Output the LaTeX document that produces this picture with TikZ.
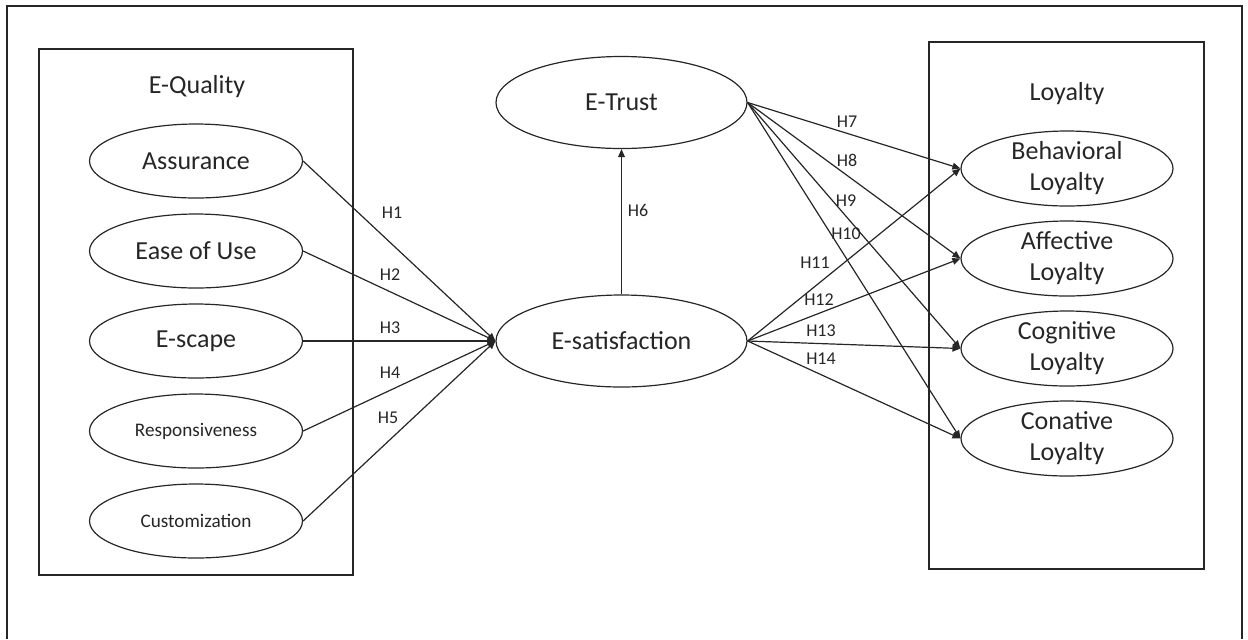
\documentclass[tikz,border=0pt]{standalone}
\usepackage{fontspec}
\setmainfont{Carlito}
\usetikzlibrary{arrows.meta, shapes.geometric}

\begin{document}
\begin{tikzpicture}[x=0.5pt, y=-0.5pt, line width=0.6pt, draw=black!85, text=black!85,
  construct/.style={draw, ellipse, inner sep=-2pt, minimum width=106.5pt, minimum height=37pt, align=center, font=\fontsize{13}{15.5}\selectfont},
  bigconstruct/.style={construct, minimum width=125.5pt, minimum height=46pt},
  smalltext/.style={font=\fontsize{9.6}{11}\selectfont},
  grouplabel/.style={inner sep=0pt, font=\fontsize{13}{15.5}\selectfont},
  hlab/.style={inner sep=0pt, font=\fontsize{9}{11}\selectfont},
  link/.style={-{Triangle[length=4pt, width=3.4pt]}}]
\useasboundingbox (0,0) rectangle (1248,639);
\draw[line width=0.7pt] (7,639) |- (1242,6) -- (1242,639);

\draw[line width=0.7pt] (39,49) rectangle (353,575);
\node[grouplabel] (quality) at (197,87) {E-Quality};
\node[construct] (assur) at (196,161) {Assurance};
\node[construct] (ease) at (196,251) {Ease of Use};
\node[construct] (escape) at (196,341) {E-scape};
\node[construct, smalltext] (resp) at (196,431) {Responsiveness};
\node[construct, smalltext] (custom) at (196,521) {Customization};

\node[bigconstruct] (etrust) at (621.5,102.5) {E-Trust};
\node[bigconstruct] (esat) at (621.5,341) {E-satisfaction};

\draw[line width=0.7pt] (929,42) rectangle (1204,569);
\node[grouplabel] (loyal) at (1067,94) {Loyalty};
\node[construct, minimum width=106pt, minimum height=37.5pt] (behav) at (1067,168.5) {Behavioral\\Loyalty};
\node[construct, minimum width=106pt, minimum height=37.5pt] (affect) at (1067,258.5) {Affective\\Loyalty};
\node[construct, minimum width=106pt, minimum height=37.5pt] (cogn) at (1067,348.5) {Cognitive\\Loyalty};
\node[construct, minimum width=106pt, minimum height=37.5pt] (conat) at (1067,438.5) {Conative\\Loyalty};

\draw[link] (assur.east) -- (esat.west);
\draw[link] (ease.east) -- (esat.west);
\draw[link] (escape.east) -- (esat.west);
\draw[link] (resp.east) -- (esat.west);
\draw[link] (custom.east) -- (esat.west);
\node[hlab] (h1) at (392,213) {H1};
\node[hlab] (h2) at (390,275) {H2};
\node[hlab] (h3) at (390,328) {H3};
\node[hlab] (h4) at (390,373) {H4};
\node[hlab] (h5) at (388,418) {H5};

\draw[link] (esat.north) -- (etrust.south);
\node[hlab] (h6) at (638,210) {H6};

\draw[link] (etrust.east) -- (behav.west);
\draw[link] (etrust.east) -- (affect.west);
\draw[link] (etrust.east) -- (cogn.west);
\draw[link] (etrust.east) -- (conat.west);
\node[hlab] (h7) at (847,122) {H7};
\node[hlab] (h8) at (847,160) {H8};
\node[hlab] (h9) at (846,201) {H9};
\node[hlab] (h10) at (846,234) {H10};

\draw[link] (esat.east) -- (behav.west);
\draw[link] (esat.east) -- (affect.west);
\draw[link] (esat.east) -- (cogn.west);
\draw[link] (esat.east) -- (conat.west);
\node[hlab] (h11) at (815,263) {H11};
\node[hlab] (h12) at (819,300) {H12};
\node[hlab] (h13) at (821,331) {H13};
\node[hlab] (h14) at (821,359) {H14};
\end{tikzpicture}
\end{document}
